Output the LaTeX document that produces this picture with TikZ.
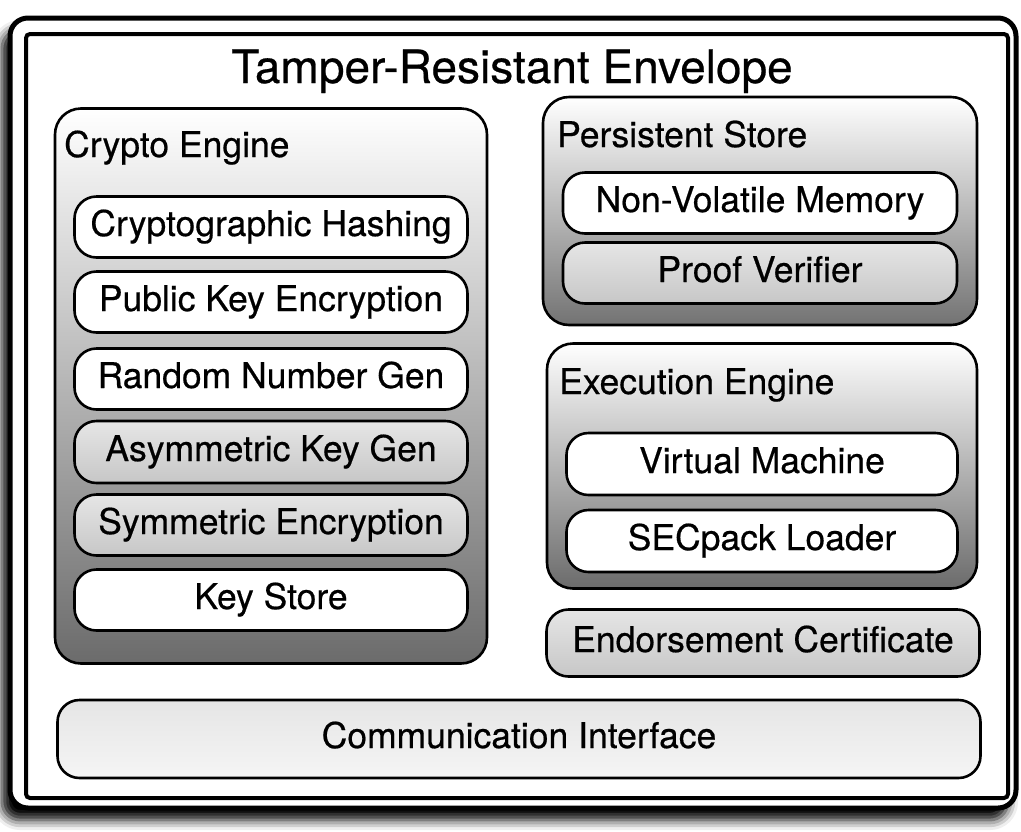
\documentclass[tikz,border=0pt]{standalone}
\usepackage{fontspec}
\setmainfont{TeX Gyre Heros}[FakeBold=0.5]
\usetikzlibrary{shadows.blur}
\begin{document}
\begin{tikzpicture}[x=1pt,y=-1pt,
  txt/.style={font=\fontsize{35.5}{42}\selectfont},
  item/.style={draw, line width=2.6pt, rounded corners=22pt, txt,
    text height=25pt, text depth=7pt, inner sep=0pt},
  white item/.style={item, fill=white},
  gray item/.style={item, top color=black!10, bottom color=black!22},
  group/.style={draw, line width=2.6pt, rounded corners=26pt, inner sep=0pt,
    top color=white, bottom color=black!58},
  glabel/.style={txt, anchor=base west, inner sep=0pt},
]
\useasboundingbox (0,0) rectangle (1021,831);
% outer envelope
\node[draw, line width=5pt, rounded corners=18pt, fill=white,
  minimum width=1006pt, minimum height=790pt, inner sep=0pt,
  blur shadow={shadow xshift=-8pt, shadow yshift=-12pt, shadow blur radius=10pt, shadow opacity=100}]
  (outer) at (513,413) {};
\node[draw, line width=4pt, rounded corners=4pt, fill=white,
  minimum width=982pt, minimum height=764pt, inner sep=0pt]
  (inner) at (517,416) {};
\node[font=\fontsize{46}{54}\selectfont, anchor=base, inner sep=0pt] (title) at (512,83) {Tamper-Resistant Envelope};

% crypto engine
\node[group, minimum width=432pt, minimum height=555pt] (crypto) at (271,386) {};
\node[glabel] (cryptol) at (64,157) {Crypto Engine};
\node[white item, minimum width=393pt, minimum height=61pt] (hash) at (271,227) {Cryptographic Hashing};
\node[white item, minimum width=393pt, minimum height=61pt] (pke) at (271,302) {Public Key Encryption};
\node[white item, minimum width=393pt, minimum height=61pt] (rng) at (271,379) {Random Number Gen};
\node[gray item, minimum width=393pt, minimum height=62pt] (akg) at (271,452) {Asymmetric Key Gen};
\node[gray item, minimum width=393pt, minimum height=61pt] (sym) at (271,525) {Symmetric Encryption};
\node[white item, minimum width=393pt, minimum height=61pt] (ks) at (271,600) {Key Store};

% persistent store
\node[group, minimum width=434pt, minimum height=228pt, bottom color=black!55] (ps) at (760,211) {};
\node[glabel] (psl) at (557,147) {Persistent Store};
\node[white item, minimum width=394pt, minimum height=61pt] (nvm) at (760,203) {Non-Volatile Memory};
\node[gray item, minimum width=394pt, minimum height=61pt] (pv) at (760,273) {Proof Verifier};

% execution engine
\node[group, minimum width=430pt, minimum height=245pt] (ee) at (762,466) {};
\node[glabel] (eel) at (559,394) {Execution Engine};
\node[white item, minimum width=391pt, minimum height=62pt] (vm) at (762,464) {Virtual Machine};
\node[white item, minimum width=391pt, minimum height=62pt] (sec) at (762,541) {SECpack Loader};

% endorsement certificate
\node[gray item, minimum width=433pt, minimum height=67pt] (ec) at (763,643) {Endorsement Certificate};

% communication interface
\node[item, top color=black!10, bottom color=black!4, minimum width=923pt, minimum height=78pt] (ci) at (519,739) {Communication Interface};
\end{tikzpicture}
\end{document}
